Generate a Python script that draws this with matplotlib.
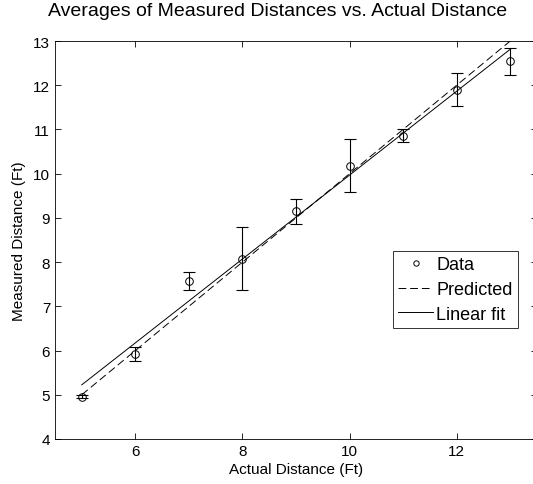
import numpy as np
from matplotlib import pyplot as plt

plt.rcParams["font.family"] = ["Liberation Sans", "DejaVu Sans"]

actual = [5, 6, 7, 8, 9, 10, 11, 12, 13]
measured = [4.96, 5.93, 7.57, 8.08, 9.15, 10.18, 10.86, 11.90, 12.54]
err = [0.03, 0.16, 0.20, 0.72, 0.28, 0.60, 0.14, 0.37, 0.31]
predicted = [5, 6, 7, 8, 9, 10, 11, 12, 13]

x_ticks = [6, 8, 10, 12]
y_ticks = [4, 5, 6, 7, 8, 9, 10, 11, 12, 13]

# linear fit of the averages
slope, icpt = np.polyfit(actual, measured, 1)
fit = [slope * a + icpt for a in actual]

fig = plt.figure(figsize=(5.33, 4.85), dpi=100)
ax = fig.add_axes([55 / 533, 45 / 485, 482 / 533, 398 / 485])

ax.errorbar(
    actual, measured, yerr=err, fmt="none", ecolor="black",
    elinewidth=0.8, capsize=4.5, capthick=0.8,
)
ax.plot(actual, measured, "o", mfc="none", mec="black", ms=5.5, mew=0.7, label="Data")
ax.plot(actual, predicted, color="black", lw=0.7, ls=(0, (8, 4)), label="Predicted")
ax.plot(actual, fit, color="black", lw=0.7, label="Linear fit")

ax.set_xlim(4.5, 13.5)
ax.set_ylim(4, 13)
ax.set_xticks(x_ticks)
ax.set_yticks(y_ticks)
ax.tick_params(direction="in", top=True, right=True, length=4, width=0.6, labelsize=11)
for sp in ax.spines.values():
    sp.set_linewidth(0.6)

ax.set_title("Averages of Measured Distances vs. Actual Distance", fontsize=14,
             pad=19, x=0.462)
ax.set_xlabel("Actual Distance (Ft)", fontsize=11, labelpad=3)
ax.set_ylabel("Measured Distance (Ft)", fontsize=11, labelpad=5)

leg = ax.legend(
    loc="upper left", bbox_to_anchor=(338 / 482, 1 - 210 / 398),
    fontsize=13, frameon=True, fancybox=False, edgecolor="black",
    handlelength=1.9, handletextpad=0.2, borderpad=0.3, labelspacing=0.42,
    borderaxespad=0, markerscale=0.7,
)
leg.get_frame().set_linewidth(0.7)

fig.savefig("out.png", dpi=100)
